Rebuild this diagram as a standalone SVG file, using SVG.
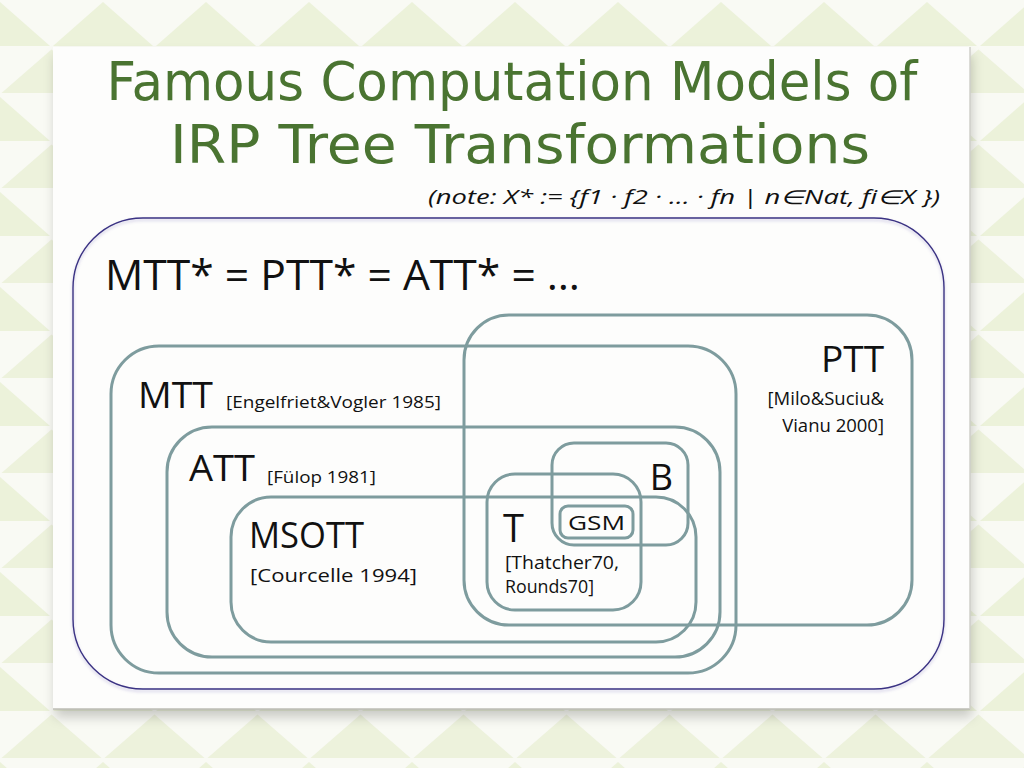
<svg xmlns="http://www.w3.org/2000/svg" width="1024" height="768" viewBox="0 0 1024 768">
<defs>
  <pattern id="quilt" x="0" y="0" width="103" height="95" patternUnits="userSpaceOnUse">
    <rect width="103" height="95" fill="#f9faf4"/>
    <polygon points="0,2 -50,46 50,46" fill="#ecf2da"/>
    <polygon points="103,2 53,46 153,46" fill="#ecf2da"/>
    <polygon points="51.5,49.5 1.5,93 101.5,93" fill="#edf2dc"/>
  </pattern>
  <filter id="cardShadow" x="-5%" y="-5%" width="110%" height="115%">
    <feDropShadow dx="2" dy="8" stdDeviation="6" flood-color="#000" flood-opacity="0.2"/>
  </filter>
  <filter id="soft" x="-5%" y="-5%" width="110%" height="110%">
    <feDropShadow dx="0" dy="2" stdDeviation="1.5" flood-color="#6a5fb0" flood-opacity="0.35"/>
  </filter>
  <style>
    .set { fill: none; stroke: #7e9c9e; stroke-width: 3; }
    .outer { fill: none; stroke: #3a3283; stroke-width: 1.4; }
    .title { font-family: "DejaVu Sans", "Liberation Sans", sans-serif; fill: #4a7431; font-size: 54px; }
    .lbl { font-family: "Open Sans", "Noto Sans", sans-serif; fill: #111; }
    .big { font-size: 36px; }
    .small { font-size: 17px; }
    .mid { font-size: 18.5px; }
  </style>
</defs>

<rect width="1024" height="768" fill="url(#quilt)"/>

<g id="card">
  <rect x="53" y="47" width="917" height="662" fill="#fdfdfc" filter="url(#cardShadow)"/>
  <line x1="53" y1="709" x2="970" y2="709" stroke="#bcbcb6" stroke-width="1.5"/>
  <line x1="970" y1="47" x2="970" y2="709" stroke="#cfcfca" stroke-width="1.5"/>
</g>

<g id="title">
  <text class="title" x="512" y="100" text-anchor="middle" textLength="811" lengthAdjust="spacingAndGlyphs">Famous Computation Models of</text>
  <text class="title" x="520" y="163" text-anchor="middle" textLength="700" lengthAdjust="spacingAndGlyphs">IRP Tree Transformations</text>
</g>

<g id="note">
  <text class="lbl" x="940" y="204" text-anchor="end" font-size="19.5" font-style="italic" textLength="512" lengthAdjust="spacingAndGlyphs">(note: X* := {f1 · f2 · … · fn  | n∈Nat, fi∈X })</text>
</g>

<g id="universe">
  <rect class="outer" x="73" y="218" width="871" height="471" rx="70" ry="70" filter="url(#soft)"/>
  <text class="lbl" x="105" y="290" font-size="42" font-weight="500" textLength="475" lengthAdjust="spacingAndGlyphs">MTT* = PTT* = ATT* = …</text>
</g>

<g id="connectors"></g>

<g id="PTT">
  <rect class="set" x="464" y="315" width="448" height="310" rx="45" ry="45"/>
  <text class="lbl big" x="884" y="372" text-anchor="end" textLength="63" lengthAdjust="spacingAndGlyphs">PTT</text>
  <text class="lbl mid" x="884" y="405" text-anchor="end">[Milo&amp;Suciu&amp;</text>
  <text class="lbl mid" x="884" y="432" text-anchor="end">Vianu 2000]</text>
</g>

<g id="MTT">
  <rect class="set" x="111" y="346" width="625" height="327" rx="48" ry="48"/>
  <text class="lbl big" x="138" y="408" textLength="75" lengthAdjust="spacingAndGlyphs">MTT</text>
  <text class="lbl small" x="226" y="408" textLength="215" lengthAdjust="spacingAndGlyphs">[Engelfriet&amp;Vogler 1985]</text>
</g>

<g id="ATT">
  <rect class="set" x="167" y="427" width="553" height="230" rx="45" ry="45"/>
  <text class="lbl big" x="189" y="481" textLength="66" lengthAdjust="spacingAndGlyphs">ATT</text>
  <text class="lbl small" x="267" y="483" textLength="109" lengthAdjust="spacingAndGlyphs">[Fülop 1981]</text>
</g>

<g id="MSOTT">
  <rect class="set" x="231" y="497" width="465" height="145" rx="40" ry="40"/>
  <text class="lbl big" x="249" y="548" textLength="115" lengthAdjust="spacingAndGlyphs">MSOTT</text>
  <text class="lbl mid" x="250" y="582" textLength="167" lengthAdjust="spacingAndGlyphs">[Courcelle 1994]</text>
</g>

<g id="B">
  <rect class="set" x="552" y="443" width="136" height="102" rx="22" ry="22"/>
  <text class="lbl big" x="673" y="490" text-anchor="end">B</text>
</g>

<g id="T">
  <rect class="set" x="487" y="474" width="154" height="136" rx="28" ry="28"/>
  <text class="lbl" x="503" y="542" font-size="38">T</text>
  <text class="lbl mid" x="505" y="569" textLength="114" lengthAdjust="spacingAndGlyphs">[Thatcher70,</text>
  <text class="lbl mid" x="505" y="593" textLength="89" lengthAdjust="spacingAndGlyphs">Rounds70]</text>
</g>

<g id="GSM">
  <rect class="set" x="560" y="506" width="73" height="32" rx="8" ry="8"/>
  <text class="lbl" x="596.5" y="530" font-size="20" text-anchor="middle" textLength="57" lengthAdjust="spacingAndGlyphs">GSM</text>
</g>
</svg>
